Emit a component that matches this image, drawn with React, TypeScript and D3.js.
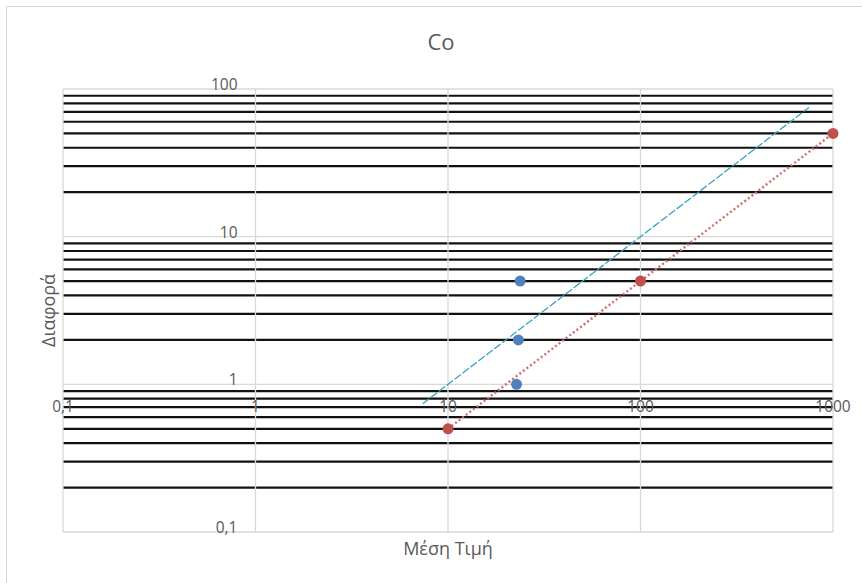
import React from "react";
import * as d3 from "d3";

const xTickValues = [0.1, 1, 10, 100, 1000];
const xTickLabels = ["0,1", "1", "10", "100", "1000"];
const yTickValues = [0.1, 1, 10, 100];
const yTickLabels = ["0,1", "1", "10", "100"];

const blueX = [23.7, 23.2, 22.7];
const blueY = [5, 2, 1];
const redX = [10, 100, 1000];
const redY = [0.5, 5, 50];
const refX = [7.4, 750];
const refY = [0.74, 75];

const W = 862;
const H = 583;
const FONT = "'Open Sans', 'Liberation Sans', sans-serif";
const GRAY = "#595959";

export default function App() {
  const x = d3.scaleLog().domain([0.1, 1000]).range([63, 833]);
  const y = d3.scaleLog().domain([0.1, 100]).range([532, 89]);
  const isPow10 = (v: number) => Math.abs(Math.log10(v) - Math.round(Math.log10(v))) < 1e-9;
  const minorY = y.ticks().filter((v) => !isPow10(v));
  const line = d3
    .line<number>()
    .x((_, i) => x(refX[i]))
    .y((_, i) => y(refY[i]));
  const redLine = d3
    .line<number>()
    .x((_, i) => x(redX[i]))
    .y((_, i) => y(redY[i]));
  const x0 = x.range()[0];
  const x1 = x.range()[1];
  const axisY = y(1);
  const axisX = x(1);

  return (
    <svg width={W} height={H} style={{ position: "absolute", left: 0, top: 0, background: "#fff" }} fontFamily={FONT}>
      <rect x={6.5} y={6.5} width={W} height={H} fill="#fff" stroke="#d9d9d9" strokeWidth={1} />
      <text x={441} y={44} textAnchor="middle" dominantBaseline="middle" fontSize={22} fill={GRAY}>
        Co
      </text>
      {minorY.map((v, i) => (
        <line key={"m" + i} x1={x0} x2={x1} y1={y(v)} y2={y(v)} stroke="#111" strokeWidth={2.2} />
      ))}
      {yTickValues.map((v, i) => (
        <line key={"hy" + i} x1={x0} x2={x1} y1={y(v)} y2={y(v)} stroke="#d9d9d9" strokeWidth={1.3} />
      ))}
      {xTickValues.map((v, i) => (
        <line key={"vx" + i} x1={x(v)} x2={x(v)} y1={y.range()[1]} y2={y.range()[0]} stroke="#d9d9d9" strokeWidth={1.3} />
      ))}
      {xTickValues.map((v, i) => (
        <text key={"xl" + i} x={x(v)} y={axisY + 24} textAnchor="middle" dominantBaseline="middle" fontSize={15.5} fill={GRAY}>
          {xTickLabels[i]}
        </text>
      ))}
      {yTickValues.map((v, i) => (
        <text key={"yl" + i} x={axisX - 18} y={y(v) - 3} textAnchor="end" dominantBaseline="middle" fontSize={15.5} fill={GRAY}>
          {yTickLabels[i]}
        </text>
      ))}
      <path d={line(refX) || ""} fill="none" stroke="#3BA3BF" strokeWidth={1.3} strokeDasharray="8 2" />
      <path d={redLine(redX) || ""} fill="none" stroke="#D06E6B" strokeWidth={2.4} strokeDasharray="2 2.5" />
      {blueX.map((v, i) => (
        <circle key={"b" + i} cx={x(v)} cy={y(blueY[i])} r={5.5} fill="#4F81BD" />
      ))}
      {redX.map((v, i) => (
        <circle key={"r" + i} cx={x(v)} cy={y(redY[i])} r={5.5} fill="#C0504D" />
      ))}
      <text x={448} y={550} textAnchor="middle" dominantBaseline="middle" fontSize={18} fill={GRAY}>
        Μέση Τιμή
      </text>
      <text
        transform={`translate(50, ${(y.range()[0] + y.range()[1]) / 2}) rotate(-90)`}
        textAnchor="middle"
        dominantBaseline="middle"
        fontSize={18}
        fill={GRAY}
      >
        Διαφορά
      </text>
    </svg>
  );
}
